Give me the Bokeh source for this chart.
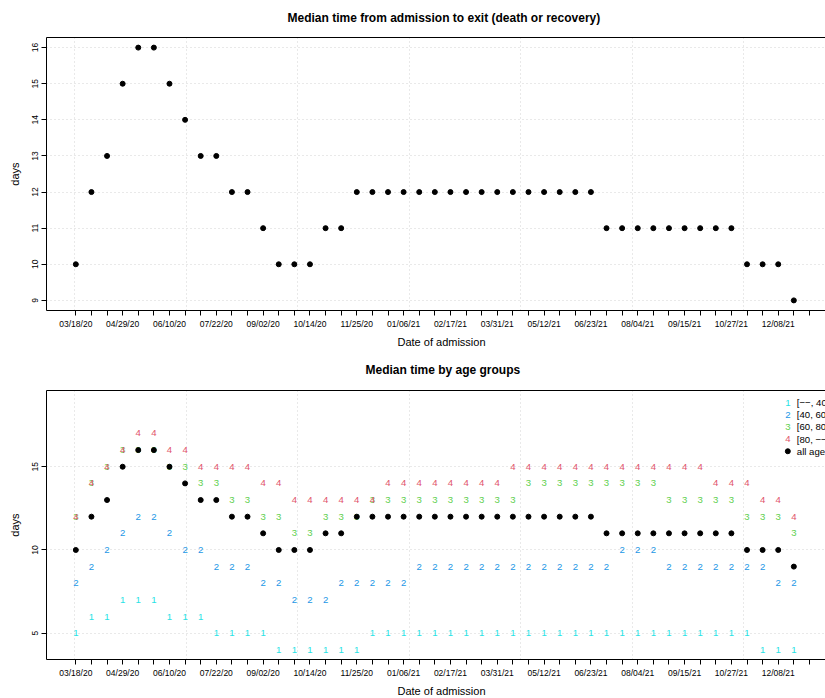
import pandas as pd
from bokeh.plotting import figure
from bokeh.models import Range1d, FixedTicker, LinearAxis, Title, Label, ColumnDataSource
from bokeh.layouts import column
from bokeh.embed import file_html
from bokeh.resources import INLINE
from bokeh.core.properties import value

FONT = "Liberation Sans"

# ---- data -------------------------------------------------------------
# biweekly admission periods (start dates); x is days since 2020-03-17
period_start = pd.date_range("2020-03-18", periods=48, freq="14D")
day0 = pd.Timestamp("2020-03-17")
period_day = [int((d - day0).days) for d in period_start]
tick_text = [d.strftime("%m/%d/%y") if i % 3 == 0 else "" for i, d in enumerate(period_start)]
grid_days = [0, 100, 200, 300, 400, 500, 600, 700]

all_ages = [10, 12, 13, 15, 16, 16, 15, 14, 13, 13, 12, 12, 11, 10, 10, 10, 11, 11,
            12, 12, 12, 12, 12, 12, 12, 12, 12, 12, 12, 12, 12, 12, 12, 12,
            11, 11, 11, 11, 11, 11, 11, 11, 11,
            10, 10, 10, 9]
age_lt40 = [5, 6, 6, 7, 7, 7, 6, 6, 6, 5, 5, 5, 5, 4, 4, 4, 4, 4, 4, 5, 5, 5, 5,
            5, 5, 5, 5, 5, 5, 5, 5, 5, 5, 5, 5, 5, 5, 5, 5, 5, 5, 5, 5, 5,
            4, 4, 4]
age_40_60 = [8, 9, 10, 11, 12, 12, 11, 10, 10, 9, 9, 9, 8, 8, 7, 7, 7, 8, 8, 8, 8, 8, 9,
             9, 9, 9, 9, 9, 9, 9, 9, 9, 9, 9, 9,
             10, 10, 10,
             9, 9, 9, 9, 9, 9, 9,
             8, 8]
age_60_80 = [12, 14, 15, 16, 16, 16, 15, 15, 14, 14, 13, 13, 12, 12, 11, 11, 12, 12, 12, 13, 13, 13, 13,
             13, 13, 13, 13, 13, 13,
             14, 14, 14, 14, 14, 14, 14, 14, 14,
             13, 13, 13, 13, 13,
             12, 12, 12, 11]
age_80p = [12, 14, 15, 16, 17, 17, 16, 16, 15, 15, 15, 15, 14, 14, 13, 13, 13, 13, 13, 13, 14, 14, 14,
           14, 14, 14, 14, 14,
           15, 15, 15, 15, 15, 15, 15, 15, 15, 15, 15, 15, 15,
           14, 14, 14,
           13, 13, 12]

group_symbols = ["1", "2", "3", "4"]
group_labels = ["[\u2212\u2212, 40)", "[40, 60)", "[60, 80)", "[80, \u2212\u2212)", "all ages"]
group_colors = ["#28E2E5", "#2297E6", "#61D04F", "#DF536B"]

n = len(all_ages)
src = ColumnDataSource(dict(day=period_day[:n], all=all_ages, g1=age_lt40, g2=age_40_60,
                            g3=age_60_80, g4=age_80p))

X_RANGE = (-25.3, 673.4)


def style_axis(ax, label_standoff):
    ax.axis_line_color = "black"
    ax.major_tick_line_color = "black"
    ax.minor_tick_line_color = None
    ax.major_tick_out = 5
    ax.major_tick_in = 0
    ax.major_label_text_font = FONT
    ax.major_label_text_font_size = "8.5px"
    ax.major_label_text_color = "black"
    ax.major_label_standoff = 3
    ax.axis_label_text_font = FONT
    ax.axis_label_text_font_size = "11px"
    ax.axis_label_text_font_style = "normal"
    ax.axis_label_text_color = "black"
    ax.axis_label_standoff = label_standoff


def make_fig(height, y_start, y_end, y_ticks, border_top, border_bottom, title, title_offset,
             title_standoff, top_gap):
    p = figure(width=825, height=height, x_range=Range1d(*X_RANGE), y_range=Range1d(y_start, y_end),
               output_backend="svg", toolbar_location=None,
               min_border_left=46, min_border_right=0,
               min_border_top=border_top, min_border_bottom=border_bottom,
               outline_line_color=None, background_fill_color="white", border_fill_color="white")
    p.title.text = title
    p.title.align = "left"
    p.title.offset = title_offset
    p.title.text_font = FONT
    p.title.text_font_size = "12px"
    p.title.text_font_style = "bold"
    p.title.text_color = "black"
    p.title.standoff = title_standoff

    p.xaxis.ticker = FixedTicker(ticks=period_day)
    p.xaxis.major_label_overrides = {d: t for d, t in zip(period_day, tick_text)}
    p.yaxis.ticker = FixedTicker(ticks=y_ticks)
    p.yaxis.major_label_orientation = "parallel"
    p.yaxis.axis_label = "days"
    style_axis(p.xaxis[0], 7)
    style_axis(p.yaxis[0], 9)

    # top border of the box (the right side lies beyond the picture); its
    # invisible ticks keep a gap between the box and the title
    top = LinearAxis(ticker=FixedTicker(ticks=period_day), axis_line_color="black",
                     major_tick_line_color=None, minor_tick_line_color=None,
                     major_tick_out=top_gap, major_tick_in=0, major_label_standoff=0,
                     major_label_overrides={d: "" for d in period_day},
                     major_label_text_font_size="0px")
    p.add_layout(top, "above")

    p.add_layout(Title(text="Date of admission", align="left", offset=351, text_font=FONT,
                       text_font_size="11px", text_font_style="normal", text_color="black",
                       standoff=4), "below")

    p.xgrid.ticker = FixedTicker(ticks=grid_days)
    p.ygrid.ticker = FixedTicker(ticks=y_ticks)
    for g in (p.xgrid[0], p.ygrid[0]):
        g.grid_line_color = "#D3D3D3"
        g.grid_line_dash = "1 3"
        g.grid_line_width = 1
    return p


# ---- top panel ----------------------------------------------------------
p1 = make_fig(355, 8.72, 16.28, [9, 10, 11, 12, 13, 14, 15, 16], 37, 45,
              "Median time from admission to exit (death or recovery)", 241, 14.2, 5)
p1.scatter(x="day", y="all", size=5, color="black", source=src)

# ---- bottom panel -------------------------------------------------------
p2 = make_fig(343, 3.42, 19.58, [5, 10, 15], 35, 35, "Median time by age groups", 319, 8.6, 9)
for col, sym, colr in zip(["g1", "g2", "g3", "g4"], group_symbols, group_colors):
    p2.text(x="day", y=col, text=value(sym), text_color=colr, text_font=value(FONT),
            text_font_size="9.6px", text_align="center", text_baseline="middle", source=src)
p2.scatter(x="day", y="all", size=5, color="black", source=src)

# legend (top right)
leg_sym_x, leg_txt_x = 639.6, 647.7
leg_rows = [18.85, 18.12, 17.41, 16.66, 15.93]
for i, (sym, colr) in enumerate(zip(group_symbols, group_colors)):
    p2.add_layout(Label(x=leg_sym_x, y=leg_rows[i], text=sym, text_color=colr, text_font=FONT,
                        text_font_size="9.6px", text_align="center", text_baseline="middle"))
p2.scatter(x=[leg_sym_x], y=[leg_rows[4]], size=5, color="black")
for i, lab in enumerate(group_labels):
    p2.add_layout(Label(x=leg_txt_x, y=leg_rows[i], text=lab, text_color="black", text_font=FONT,
                        text_font_size="9.6px", text_align="left", text_baseline="middle"))

layout = column(p1, p2, spacing=0)
open("out.html", "w").write(file_html(layout, INLINE))
